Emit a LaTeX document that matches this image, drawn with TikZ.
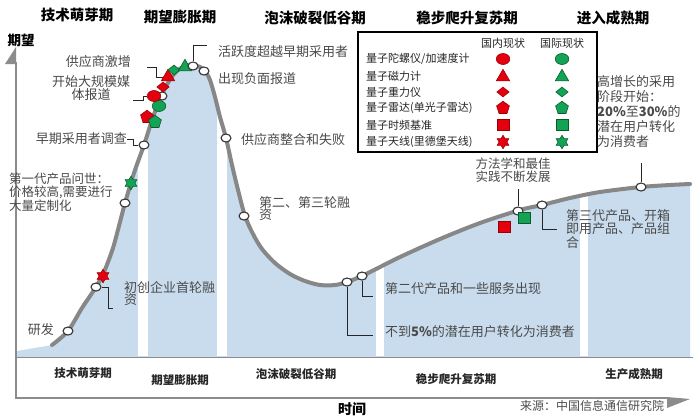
\documentclass[tikz,border=0pt]{standalone}
\usepackage{fontspec}
\setmainfont{Noto Sans CJK SC}
\usetikzlibrary{shapes.geometric}
\definecolor{qblue}{HTML}{C9DCEE}
\definecolor{qcurve}{HTML}{878787}
\definecolor{qred}{HTML}{E5000F}
\definecolor{qredd}{HTML}{9A0000}
\definecolor{qgreen}{HTML}{12A454}
\definecolor{qgreend}{HTML}{0A5A2C}
\definecolor{qtext}{HTML}{4A4A4A}
\definecolor{qaxis}{HTML}{8C8C8C}
\begin{document}
\begin{tikzpicture}[x=1pt,y=-1pt,
  ann/.style={font=\fontsize{13}{12}\selectfont, text=qtext, inner sep=0pt},
  toplbl/.style={font=\fontsize{14.5}{16}\selectfont\bfseries, inner sep=0pt},
  botlbl/.style={font=\fontsize{11.5}{13}\selectfont\bfseries, text=black!85, inner sep=0pt},
  leg/.style={font=\fontsize{11}{12}\selectfont, text=black!85, inner sep=0pt},
  evdot/.style={ellipse, draw=black!80, fill=white, line width=1.1pt, minimum width=10pt, minimum height=8pt, inner sep=0pt},
  callout/.style={draw=black!85, line width=0.9pt},
  mk/.style={draw, line width=0.6pt, inner sep=0pt},
  rd/.style={mk, fill=qred, draw=qredd},
  gn/.style={mk, fill=qgreen, draw=qgreend},
  mcirc/.style={ellipse, minimum width=13.5pt, minimum height=11pt},
  mtri/.style={regular polygon, regular polygon sides=3, minimum size=15.5pt},
  mdia/.style={diamond, minimum width=12.5pt, minimum height=10pt},
  mpent/.style={regular polygon, regular polygon sides=5, minimum size=13.5pt},
  msq/.style={rectangle, minimum width=12pt, minimum height=11pt},
  mstar/.style={star, star points=6, star point ratio=1.7, minimum size=13.5pt}
]
\useasboundingbox (0,0) rectangle (700,418);
\fill[white] (0,0) rectangle (700,418);

% blue area under the curve
\fill[qblue] (17,351) -- (52,345) -- plot[smooth, tension=0.5] coordinates {
 (52,345) (68,331) (82,308) (96,287) (104,272) (113,248) (120,222) (125,203)
 (134,173) (144,145) (152,120) (158,104) (164,90) (171,78) (178,70) (186,66)
 (193,65) (200,67) (205,71) (210,80) (215,97) (220,117) (226,138) (232,165)
 (238,190) (245,216) (253,234) (262,249) (275,263) (290,274) (305,281)
 (320,285) (335,285) (347,282) (362,276) (380,267) (400,257) (440,239)
 (480,223) (520,210) (542,205) (570,198) (600,192) (641,187) (670,185) (690,184)}
 -- (690,357) -- (17,357) -- cycle;

% white separator strips
\fill[white] (138,40) rectangle (148,356);
\fill[white] (217,40) rectangle (227,356);
\fill[white] (376,40) rectangle (384,356);
\fill[white] (580,40) rectangle (588,356);

% axes
\draw[qaxis, line width=1.5pt] (16,357.5) -- (693,357.5);
\draw[qaxis, line width=1.5pt] (16,62) -- (16,398) -- (668,398);
\fill[qaxis] (16,47) -- (5,64) -- (16,64) -- cycle;
\fill[qaxis] (667,397) -- (690,399) -- (667,408) -- cycle;

% curve
\draw[qcurve, line width=4pt, line cap=round] plot[smooth, tension=0.5] coordinates {
 (52,345) (68,331) (82,308) (96,287) (104,272) (113,248) (120,222) (125,203)
 (134,173) (144,145) (152,120) (158,104) (164,90) (171,78) (178,70) (186,66)
 (193,65) (200,67) (205,71) (210,80) (215,97) (220,117) (226,138) (232,165)
 (238,190) (245,216) (253,234) (262,249) (275,263) (290,274) (305,281)
 (320,285) (335,285) (347,282) (362,276) (380,267) (400,257) (440,239)
 (480,223) (520,210) (542,205) (570,198) (600,192) (641,187) (670,185) (690,184)};

% titles
\node[font=\fontsize{13.5}{15}\selectfont\bfseries, inner sep=0pt] (ylab) at (21,40) {期望};
\node[toplbl] (p1) at (77,15) {技术萌芽期};
\node[toplbl] (p2) at (180,17) {期望膨胀期};
\node[toplbl] (p3) at (315,18) {泡沫破裂低谷期};
\node[toplbl] (p4) at (467,18) {稳步爬升复苏期};
\node[toplbl] (p5) at (613,18) {进入成熟期};

\node[botlbl] (b1) at (83,373) {技术萌芽期};
\node[botlbl] (b2) at (180,380) {期望膨胀期};
\node[botlbl] (b3) at (296,374) {泡沫破裂低谷期};
\node[botlbl] (b4) at (456,379) {稳步爬升复苏期};
\node[botlbl] (b5) at (634,374) {生产成熟期};
\node[font=\fontsize{14}{16}\selectfont\bfseries, inner sep=0pt] (xlab) at (352,409) {时间};
\node[font=\fontsize{12}{14}\selectfont, text=black!70, inner sep=0pt] (src) at (592,406) {来源：中国信息通信研究院};

% legend
\draw[line width=1.3pt, fill=white] (358,32) rectangle (597,152);
\node[leg] (lh1) at (503,43) {国内现状};
\node[leg] (lh2) at (562,43) {国际现状};
\node[leg, anchor=west] (l1) at (366,59) {量子陀螺仪/加速度计};
\node[leg, anchor=west] (l2) at (366,76) {量子磁力计};
\node[leg, anchor=west] (l3) at (366,92) {量子重力仪};
\node[leg, anchor=west] (l4) at (366,108) {量子雷达(单光子雷达)};
\node[leg, anchor=west] (l5) at (366,125) {量子时频基准};
\node[leg, anchor=west] (l6) at (366,142) {量子天线(里德堡天线)};
\node[rd, mcirc] (lr1) at (503,59) {};
\node[gn, mcirc] (lg1) at (562,59) {};
\node[rd, mtri] (lr2) at (503,77) {};
\node[gn, mtri] (lg2) at (562,77) {};
\node[rd, mdia] (lr3) at (503,92) {};
\node[gn, mdia] (lg3) at (562,92) {};
\node[rd, mpent] (lr4) at (503,108) {};
\node[gn, mpent] (lg4) at (562,108) {};
\node[rd, msq] (lr5) at (503,125) {};
\node[gn, msq] (lg5) at (562,125) {};
\node[rd, mstar] (lr6) at (503,142) {};
\node[gn, mstar] (lg6) at (562,142) {};

% points on curve
\node[evdot] (c1) at (68,331) {};
\node[evdot] (c2) at (96,287) {};
\node[evdot] (c3) at (125,203) {};
\node[evdot] (c4) at (144,145) {};
\node[evdot] (c5) at (162,96) {};
\node[evdot] (c8) at (226,138) {};
\node[evdot] (c9) at (244,216) {};
\node[evdot] (c10) at (347,282) {};
\node[evdot] (c11) at (362,276) {};
\node[evdot] (c12) at (518,211) {};
\node[evdot] (c13) at (542,205) {};
\node[evdot] (c14) at (641,187) {};

% coloured markers on curve
\node[rd, mstar] (ms1) at (103,276) {};
\node[gn, mstar] (ms2) at (131,183) {};
\node[rd, mpent] (mrp) at (147,117) {};
\node[gn, mpent] (mgp) at (155,122) {};
\node[gn, mcirc] (mgc) at (159,106) {};
\node[rd, mcirc] (mrc) at (154,96) {};
\node[rd, mdia] (mrd) at (163,87) {};
\node[rd, mtri] (mrt) at (168,77) {};
\node[gn, mdia] (mgd) at (174,70) {};
\node[gn, mtri] (mgt) at (185,67) {};
\node[evdot] (c6) at (193,66) {};
\node[evdot] (c7) at (204,71) {};
\node[rd, msq] (mrs) at (504,227) {};
\node[gn, msq] (mgs) at (524,218) {};

% annotations
\node[ann, anchor=east] (t1) at (54,330) {研发};
\node[ann, anchor=west, align=left] (t2) at (124,294) {初创企业首轮融\\资};
\node[ann, anchor=west, align=left, font=\fontsize{12.5}{11.5}\selectfont] (t3) at (9,192) {第一代产品问世：\\价格较高,需要进行\\大量定制化};
\node[ann, anchor=east] (t4) at (127,139) {早期采用者调查};
\node[ann, align=center, font=\fontsize{13}{13}\selectfont] (t5) at (91,88.5) {开始大规模媒\\体报道};
\node[ann, anchor=east] (t6) at (131,62) {供应商激增};
\node[ann, anchor=west] (t7) at (218,52) {活跃度超越早期采用者};
\node[ann, anchor=west] (t8) at (218,79) {出现负面报道};
\node[ann, anchor=west] (t9) at (241,140) {供应商整合和失败};
\node[ann, anchor=west, align=left] (t10) at (259,209) {第二、第三轮融\\资};
\node[ann, anchor=west] (t11) at (385,289) {第二代产品和一些服务出现};
\node[ann, anchor=west] (t12) at (385,332) {不到\textbf{5\%}的潜在用户转化为消费者};
\node[ann, align=center, font=\fontsize{12.5}{11.5}\selectfont] (t13) at (513,170) {方法学和最佳\\实践不断发展};
\node[ann, anchor=west, align=left, font=\fontsize{13}{11.5}\selectfont] (t14) at (566,229) {第三代产品、开箱\\即用产品、产品组\\合};
\node[ann, anchor=west, align=left, font=\fontsize{13}{15.2}\selectfont] (t15) at (597,111.5) {高增长的采用\\阶段开始：\\\textbf{20\%}至\textbf{30\%}的\\潜在用户转化\\为消费者};

% callout connectors
\coordinate (k2) at (113,308);
\draw[callout] (c2.east) -- ++(7,0) |- (k2);
\draw[callout] (t4.east) -- ++(6,0) |- (c4.west);
\coordinate (k5) at (133,100);
\draw[callout] (k5) -- ++(10,0) |- (mrc.west);
\coordinate (k6) at (147,67);
\draw[callout] (k6) -- ++(9,0) |- (mrt.west);
\coordinate (k7) at (207,45);
\draw[callout] (c6.north) |- (k7);
\coordinate (k11) at (373,296);
\draw[callout] (c11.south) |- (k11);
\coordinate (k10) at (373,335);
\draw[callout] (c10.south) |- (k10);
\coordinate (k12) at (518,189);
\draw[callout] (k12) -- (c12.north);
\coordinate (k13) at (557,229);
\draw[callout] (c13.south) |- (k13);
\coordinate (k14) at (641,163);
\draw[callout] (k14) -- (c14.north);
\end{tikzpicture}
\end{document}
